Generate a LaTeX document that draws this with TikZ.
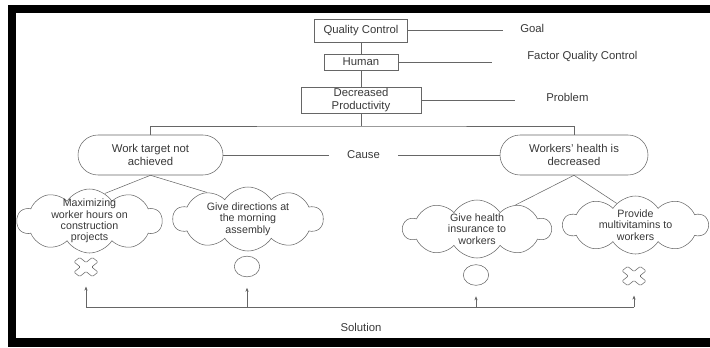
\documentclass[tikz,border=0pt]{standalone}
\usepackage{fontspec}
\setmainfont{Liberation Sans}
\usetikzlibrary{shapes.symbols,shapes.misc,shapes.geometric,arrows.meta}
\definecolor{linec}{gray}{0.4}
\definecolor{txtc}{gray}{0.22}

\begin{document}
\begin{tikzpicture}[x=0.75pt,y=-0.75pt,
	box/.style={draw=linec, inner sep=0pt, align=center, text=txtc, font=\fontsize{8.5}{9.5}\selectfont},
	pill/.style={draw=linec, rounded rectangle, inner sep=0pt, align=center, text=txtc, font=\fontsize{8.5}{9.5}\selectfont},
	idea/.style={draw=linec, cloud, cloud puffs=10, cloud puff arc=115, aspect=2.4, inner sep=-8pt, align=center, text=txtc, font=\fontsize{8}{8.6}\selectfont},
	lbl/.style={text=txtc, inner sep=0pt, font=\fontsize{8.5}{9.5}\selectfont},
	okmark/.style={draw=linec, ellipse, minimum width=19pt, minimum height=15.5pt, inner sep=0pt},
	nomark/.style={minimum width=17pt, minimum height=13pt, inner sep=0pt},
	tip/.style={-{Stealth[length=3pt,width=2.4pt]}, shorten >=8pt}]
	\useasboundingbox (0,0) rectangle (710,347);
	\fill (8,4.5) rectangle (710,12.5);
	\fill (8,4.5) rectangle (16,347);
	\fill (8,338) rectangle (710,347);

	\node[box, minimum width=69.75pt, minimum height=17.25pt] at (361,30.5)(qc){Quality Control};
	\node[box, minimum width=55.5pt, minimum height=12pt] at (361,62)(hu){Human};
	\node[box, minimum width=90pt, minimum height=19.5pt] at (361,100)(dp){Decreased\\Productivity};
	\draw[linec] (qc) -- (hu) -- (dp);

	\node[lbl, anchor=west] at (520,28)(goal){Goal};
	\node[lbl, anchor=west] at (527,57)(factor){Factor Quality Control};
	\node[lbl, anchor=west] at (546,97)(problem){Problem};
	\draw[linec] (qc.east) -- ++(95,0);
	\draw[linec] (hu.east) -- ++(94,0);
	\draw[linec] (dp.east) -- ++(94,0);

	\node[pill, minimum width=108.75pt, minimum height=30pt] at (150.5,155)(wt){Work target not\\achieved};
	\node[pill, minimum width=111pt, minimum height=30pt] at (574,155)(wh){Workers' health is\\decreased};
	\coordinate (split) at (361,126);
	\draw[linec] (dp) -- (split);
	\draw[linec] (wt.north) |- (split) -| (wh.north);

	\node[lbl, inner xsep=13.5pt] at (363.5,155)(cause){Cause};
	\draw[linec] (wt.east) -- (cause.west) (cause.east) -- (wh.west);

	\node[idea, minimum width=108.75pt, minimum height=48pt] at (89.5,221)(c1){Maximizing\\worker hours on\\construction\\projects};
	\node[idea, minimum width=112.5pt, minimum height=48pt] at (248,219)(c2){Give directions at\\the morning\\assembly};
	\node[idea, minimum width=111pt, minimum height=43.5pt] at (477,229)(c3){Give health\\insurance to\\workers};
	\node[idea, minimum width=108.75pt, minimum height=43.5pt] at (635.5,225)(c4){Provide\\multivitamins to\\workers};
	\draw[linec] (wt.south) -- (c1.61) (wt.south) -- (c2.147);
	\draw[linec] (wh.south) -- (c3.32) (wh.south) -- (c4.131);

	\node[nomark] at (86,267)(x1){};
	\node[okmark] at (247,266.5)(o1){};
	\node[okmark] at (476,275)(o2){};
	\node[nomark] at (634,276)(x2){};
	\foreach \n in {x1,x2}
		\draw[linec, rounded corners=0.8pt, shift={(\n.center)}, yscale=0.8, rotate=45]
			(13,4) -- (13,-4) -- (4,-4) -- (4,-13) -- (-4,-13) -- (-4,-4) --
			(-13,-4) -- (-13,4) -- (-4,4) -- (-4,13) -- (4,13) -- (4,4) -- cycle;

	\coordinate (sl) at (86,307);
	\node[lbl] at (361,327)(sol){Solution};
	\draw[linec] (x1 |- sl) -- (x2 |- sl);
	\path[linec, tip] (x1 |- sl) edge (x1.south) (o1 |- sl) edge (o1.south)
		(o2 |- sl) edge (o2.south) (x2 |- sl) edge (x2.south);
\end{tikzpicture}
\end{document}
